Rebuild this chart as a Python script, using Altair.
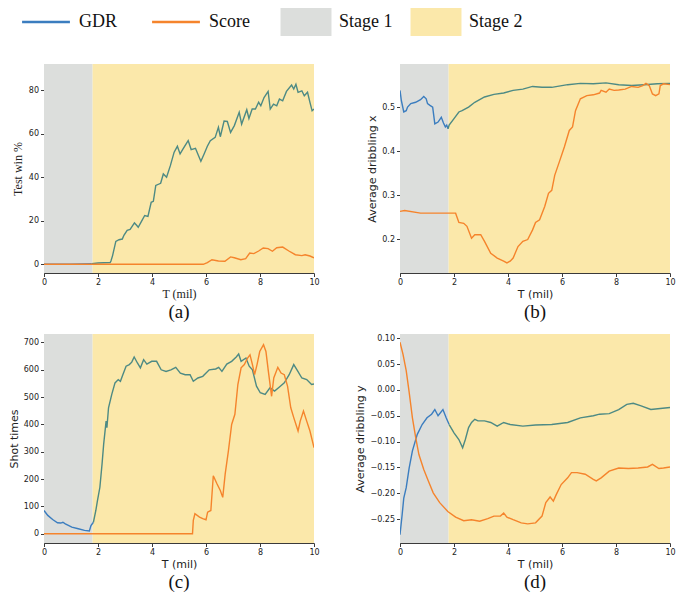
import altair as alt
import pandas as pd

SPLIT = 1.8
T_END = 10

# ---------------- data ----------------
# (a) Test win %
a_gdr_t = [0, 1.0, 1.77, 2.0, 2.2, 2.45, 2.48, 2.54, 2.66, 2.78, 2.90, 2.96, 3.08, 3.19, 3.35, 3.43, 3.49,
           3.61, 3.73, 3.85, 3.97, 4.05, 4.14, 4.32, 4.42, 4.54, 4.68, 4.82, 4.94, 5.04, 5.15, 5.34, 5.45,
           5.61, 5.72, 5.81, 5.93, 6.05, 6.16, 6.34, 6.46, 6.53, 6.67, 6.79, 6.91, 7.05, 7.23, 7.32, 7.51,
           7.59, 7.71, 7.83, 7.95, 8.03, 8.15, 8.30, 8.38, 8.50, 8.62, 8.72, 8.84, 8.98, 9.17, 9.25, 9.33,
           9.41, 9.55, 9.64, 9.76, 9.85, 9.93, 10]
a_gdr_v = [0, 0, 0.3, 0.6, 0.7, 0.8, 1.5, 4, 10.5, 11.3, 11.6, 13.3, 15.6, 16, 19, 17.9, 17,
           19.7, 22.4, 22, 28.5, 28.9, 36.2, 37.2, 41.5, 40, 45.3, 51.5, 54.2, 50.7, 53, 56.8, 52.7,
           53.3, 50, 47.3, 50.7, 54.2, 56.8, 58.3, 62.9, 58.6, 65.8, 65.6, 60.6, 63.7, 69.8, 64.4, 71,
           67, 71.3, 71.3, 74.4, 72.8, 76.6, 79.4, 71.3, 73.6, 72.8, 75.9, 75.1, 79.4, 82.3, 80.5, 82.7,
           79, 79.7, 77.4, 79, 74.4, 70.5, 71.3]
a_score_t = [0, 5.9, 6.05, 6.22, 6.46, 6.70, 6.91, 7.05, 7.29, 7.47, 7.62, 7.77, 7.95, 8.12, 8.30, 8.46,
             8.62, 8.84, 9.07, 9.31, 9.55, 9.67, 9.85, 10]
a_score_v = [0, 0, 0.8, 2.1, 1.5, 1.4, 3.4, 3, 2.1, 2.6, 5.2, 4.9, 6.1, 7.5, 7.2, 6, 7.6, 7.9, 6.1, 4.4,
             4, 4.4, 3.8, 3]

# (b) Average dribbling x
b_gdr_t = [0, 0.05, 0.14, 0.23, 0.28, 0.40, 0.58, 0.76, 0.88, 0.97, 1.02, 1.11, 1.21, 1.29, 1.41, 1.53,
           1.61, 1.68, 1.73, 1.78, 1.82, 2.00, 2.18, 2.30, 2.54, 2.77, 3.13, 3.48, 3.84, 4.19, 4.55, 4.91,
           5.26, 5.62, 6.21, 6.68, 7.16, 7.63, 8.10, 8.58, 9.05, 9.53, 10]
b_gdr_v = [0.538, 0.515, 0.489, 0.492, 0.500, 0.508, 0.511, 0.517, 0.524, 0.519, 0.508, 0.504, 0.500,
           0.462, 0.466, 0.477, 0.464, 0.455, 0.459, 0.451, 0.459, 0.474, 0.489, 0.492, 0.500, 0.511,
           0.523, 0.529, 0.532, 0.538, 0.541, 0.547, 0.545, 0.545, 0.551, 0.554, 0.553, 0.555, 0.551,
           0.549, 0.551, 0.553, 0.554]
b_score_t = [0, 0.17, 0.76, 1.23, 1.82, 2.06, 2.18, 2.36, 2.48, 2.65, 2.77, 2.99, 3.13, 3.36, 3.60, 3.84,
             3.96, 4.08, 4.19, 4.37, 4.55, 4.73, 4.91, 5.02, 5.17, 5.36, 5.50, 5.62, 5.73, 5.92, 6.09,
             6.27, 6.39, 6.50, 6.68, 6.92, 7.16, 7.39, 7.45, 7.63, 7.75, 7.93, 8.10, 8.34, 8.58, 8.82,
             8.99, 9.11, 9.23, 9.35, 9.47, 9.59, 9.64, 9.76, 10]
b_score_v = [0.263, 0.265, 0.259, 0.259, 0.259, 0.259, 0.238, 0.236, 0.229, 0.202, 0.210, 0.210, 0.195,
             0.168, 0.157, 0.150, 0.146, 0.150, 0.157, 0.183, 0.195, 0.199, 0.221, 0.238, 0.244, 0.274,
             0.304, 0.311, 0.345, 0.379, 0.410, 0.447, 0.455, 0.492, 0.519, 0.526, 0.528, 0.532, 0.538,
             0.534, 0.541, 0.538, 0.539, 0.541, 0.547, 0.545, 0.549, 0.554, 0.549, 0.530, 0.526, 0.530,
             0.549, 0.553, 0.551]

# (c) Shot times
c_gdr_t = [0, 0.14, 0.32, 0.50, 0.62, 0.70, 0.79, 1.03, 1.27, 1.50, 1.68, 1.74, 1.83, 1.92, 1.98, 2.07,
           2.15, 2.21, 2.30, 2.33, 2.39, 2.51, 2.63, 2.75, 2.83, 2.92, 3.04, 3.16, 3.25, 3.34, 3.46, 3.57,
           3.69, 3.81, 3.99, 4.17, 4.34, 4.52, 4.70, 4.88, 5.05, 5.23, 5.41, 5.53, 5.70, 5.88, 6.12, 6.36,
           6.47, 6.59, 6.77, 6.95, 7.12, 7.21, 7.30, 7.48, 7.60, 7.72, 7.87, 8.01, 8.19, 8.37, 8.54, 8.72,
           8.90, 9.08, 9.25, 9.37, 9.55, 9.73, 9.91, 10]
c_gdr_v = [85, 67, 52, 40, 39, 42, 36, 24, 18, 12, 10, 30, 42, 85, 121, 170, 255, 328, 412, 388, 461,
           510, 552, 564, 558, 582, 613, 619, 628, 647, 625, 607, 637, 621, 631, 631, 600, 594, 600, 609,
           588, 582, 582, 558, 570, 576, 600, 603, 609, 594, 621, 631, 647, 658, 631, 643, 613, 600, 540,
           516, 510, 534, 522, 537, 552, 582, 619, 600, 570, 564, 546, 548]
c_score_t = [0, 5.50, 5.53, 5.59, 5.76, 5.88, 6.00, 6.06, 6.18, 6.27, 6.41, 6.53, 6.62, 6.71, 6.83, 6.95,
             7.07, 7.18, 7.30, 7.42, 7.54, 7.63, 7.72, 7.80, 7.89, 7.99, 8.13, 8.22, 8.31, 8.43, 8.51,
             8.66, 8.78, 8.90, 9.02, 9.14, 9.25, 9.41, 9.49, 9.61, 9.73, 9.85, 10]
c_score_v = [0, 0, 49, 73, 61, 55, 51, 79, 85, 212, 182, 158, 133, 218, 303, 400, 437, 546, 607, 619,
             643, 655, 619, 582, 619, 667, 692, 667, 594, 503, 570, 609, 588, 582, 540, 461, 425, 376,
             412, 449, 412, 376, 315]

# (d) Average dribbling y
d_gdr_t = [0, 0.08, 0.14, 0.23, 0.34, 0.46, 0.64, 0.82, 1.00, 1.17, 1.29, 1.41, 1.59, 1.71, 1.82, 2.00,
           2.18, 2.32, 2.42, 2.54, 2.65, 2.77, 2.89, 3.13, 3.36, 3.60, 3.84, 4.08, 4.55, 5.02, 5.62, 6.21,
           6.68, 7.16, 7.39, 7.75, 8.10, 8.40, 8.64, 8.93, 9.29, 9.64, 10]
d_gdr_v = [-0.280, -0.241, -0.209, -0.189, -0.151, -0.118, -0.086, -0.067, -0.054, -0.047, -0.038,
           -0.050, -0.038, -0.054, -0.067, -0.083, -0.096, -0.112, -0.096, -0.073, -0.063, -0.057,
           -0.060, -0.060, -0.063, -0.070, -0.063, -0.067, -0.070, -0.068, -0.067, -0.063, -0.054,
           -0.050, -0.047, -0.046, -0.038, -0.028, -0.026, -0.031, -0.038, -0.036, -0.034]
d_score_t = [0, 0.11, 0.23, 0.34, 0.46, 0.58, 0.70, 0.88, 1.05, 1.23, 1.47, 1.77, 2.06, 2.36, 2.65, 2.95,
             3.25, 3.48, 3.72, 3.84, 3.96, 4.19, 4.49, 4.73, 5.02, 5.26, 5.40, 5.56, 5.68, 5.79, 5.97,
             6.21, 6.35, 6.56, 6.86, 7.16, 7.27, 7.45, 7.75, 8.10, 8.46, 8.82, 9.17, 9.35, 9.59, 9.76, 10]
d_score_v = [0.092, 0.069, 0.037, -0.005, -0.054, -0.092, -0.125, -0.154, -0.176, -0.199, -0.218,
             -0.235, -0.246, -0.253, -0.251, -0.254, -0.249, -0.244, -0.244, -0.238, -0.246, -0.251,
             -0.257, -0.259, -0.257, -0.244, -0.218, -0.207, -0.215, -0.202, -0.183, -0.170, -0.160,
             -0.160, -0.163, -0.173, -0.176, -0.170, -0.157, -0.151, -0.152, -0.151, -0.149, -0.144,
             -0.152, -0.151, -0.149]

stage_names = ["Stage 1", "Stage 2"]
stage_start = [0, SPLIT]
stage_end = [SPLIT, T_END]

legend_labels = ["GDR", "Score", "Stage 1", "Stage 2"]
legend_kind = ["line", "line", "patch", "patch"]

# ---------------- styles ----------------
BLUE = "#3b7dbf"
TEAL = "#4d8a84"
ORANGE = "#f5842c"
GREY = "#dcdedc"
YELLOW = "#fbe8aa"
AX = "#3a3a3a"
SERIF = "Liberation Serif"
SANS = "DejaVu Sans"
W, H = 270, 209


def series_frame(gt, gv, st, sv):
    idx = next(i for i, t in enumerate(gt) if t >= SPLIT - 0.05)
    rows = []
    for t, v in zip(gt[:idx + 1], gv[:idx + 1]):
        rows.append({"t": t, "v": v, "s": "GDR1"})
    for t, v in zip(gt[idx:], gv[idx:]):
        rows.append({"t": t, "v": v, "s": "GDR2"})
    for t, v in zip(st, sv):
        rows.append({"t": t, "v": v, "s": "Score"})
    return pd.DataFrame(rows)


stages = pd.DataFrame({"stage": stage_names, "start": stage_start, "end": stage_end})


def panel(df, domain, ticks, ytitle, caption, serif_titles=False, fmt=None, minus=False):
    tfont = SERIF if serif_titles else SANS
    tsize = 12 if serif_titles else 11
    xaxis = alt.Axis(values=[0, 2, 4, 6, 8, 10], title="T (mil)", titleFont=tfont, titleFontSize=tsize,
                     titleFontWeight="normal", titleColor="#222", titlePadding=2,
                     labelFont=SANS, labelFontSize=8, labelColor="#222", labelPadding=2,
                     domainColor=AX, tickColor=AX, tickSize=3.5, grid=False, labelFlush=False)
    ykw = dict(values=ticks, title=ytitle, titleFont=tfont, titleFontSize=tsize,
               titleFontWeight="normal", titleColor="#222", titlePadding=4,
               labelFont=SANS, labelFontSize=8, labelColor="#222", labelPadding=2,
               domainColor=AX, tickColor=AX, tickSize=3.5, grid=False)
    if minus:
        ykw["labelExpr"] = "replace(format(datum.value, '.2f'), '-', '\u2212')"
    elif fmt:
        ykw["format"] = fmt
    yaxis = alt.Axis(**ykw)
    xs = alt.Scale(domain=[0, T_END], nice=False, zero=False)
    ys = alt.Scale(domain=domain, nice=False, zero=False)

    bg = alt.Chart(stages).mark_rect().encode(
        x=alt.X("start:Q", scale=xs, axis=xaxis),
        x2="end:Q",
        fill=alt.Fill("stage:N", scale=alt.Scale(domain=stage_names, range=[GREY, YELLOW]), legend=None),
    )
    lines = alt.Chart(df).mark_line(strokeWidth=1.4, clip=True).encode(
        x=alt.X("t:Q", scale=xs, axis=xaxis),
        y=alt.Y("v:Q", scale=ys, axis=yaxis),
        stroke=alt.Stroke("s:N", scale=alt.Scale(domain=["GDR1", "GDR2", "Score"],
                                                 range=[BLUE, TEAL, ORANGE]), legend=None),
        detail="s:N",
        order="t:Q",
    )
    return alt.layer(bg, lines).properties(
        width=W, height=H,
        title=alt.TitleParams(caption, orient="bottom", font=SERIF, fontSize=19, fontWeight="normal",
                              color="#111", offset=3, anchor="middle"),
    )


pa = panel(series_frame(a_gdr_t, a_gdr_v, a_score_t, a_score_v), [-4, 92], [0, 20, 40, 60, 80],
           "Test win %", "(a)", serif_titles=True)
pb = panel(series_frame(b_gdr_t, b_gdr_v, b_score_t, b_score_v), [0.123, 0.598], [0.2, 0.3, 0.4, 0.5],
           "Average dribbling x", "(b)", fmt=".1f")
pc = panel(series_frame(c_gdr_t, c_gdr_v, c_score_t, c_score_v), [-34, 731],
           [0, 100, 200, 300, 400, 500, 600, 700], "Shot times", "(c)")
pd_ = panel(series_frame(d_gdr_t, d_gdr_v, d_score_t, d_score_v), [-0.296, 0.108],
            [-0.25, -0.20, -0.15, -0.10, -0.05, 0.0, 0.05, 0.10], "Average dribbling y", "(d)", minus=True)

grid = alt.concat(pa, pb, pc, pd_, columns=2, spacing={"row": 12, "column": 34})

# ---------------- legend (its origin is aligned with the panels' plot origin) ----------------
leg = pd.DataFrame({"i": list(range(len(legend_labels))), "label": legend_labels, "kind": legend_kind,
                    "col": [BLUE, ORANGE, GREY, YELLOW]})
lxs = alt.Scale(domain=[0, 3], range=[2, 392])
lys = alt.Scale(domain=[0, 1])
base = alt.Chart(leg).transform_calculate(
    x0="datum.kind == 'line' ? datum.i - 0.184 : datum.i - 0.196",
    x1="datum.kind == 'line' ? datum.i + 0.184 : datum.i + 0.196",
    ylo="0", yhi="1", ymid="0.5")
leg_lines = base.transform_filter("datum.kind == 'line'").mark_rule(strokeWidth=2.5).encode(
    x=alt.X("x0:Q", scale=lxs, axis=None), x2="x1:Q",
    y=alt.Y("ymid:Q", scale=lys, axis=None),
    color=alt.Color("col:N", scale=None))
leg_patch = base.transform_filter("datum.kind == 'patch'").mark_rect().encode(
    x=alt.X("x0:Q", scale=lxs, axis=None), x2="x1:Q",
    y=alt.Y("ylo:Q", scale=lys, axis=None), y2="yhi:Q",
    fill=alt.Fill("col:N", scale=None))
leg_text = base.mark_text(align="left", baseline="middle", dx=33, font=SERIF, fontSize=18,
                          color="#111").encode(
    x=alt.X("i:Q", scale=lxs, axis=None), y=alt.Y("ymid:Q", scale=lys, axis=None), text="label:N")
legend = alt.layer(leg_lines, leg_patch, leg_text).properties(width=560, height=28)

chart = alt.vconcat(legend, grid, spacing=28).properties(padding=0).configure_view(stroke=None)

chart.save("out.html", embed_options={"renderer": "svg", "actions": False})
